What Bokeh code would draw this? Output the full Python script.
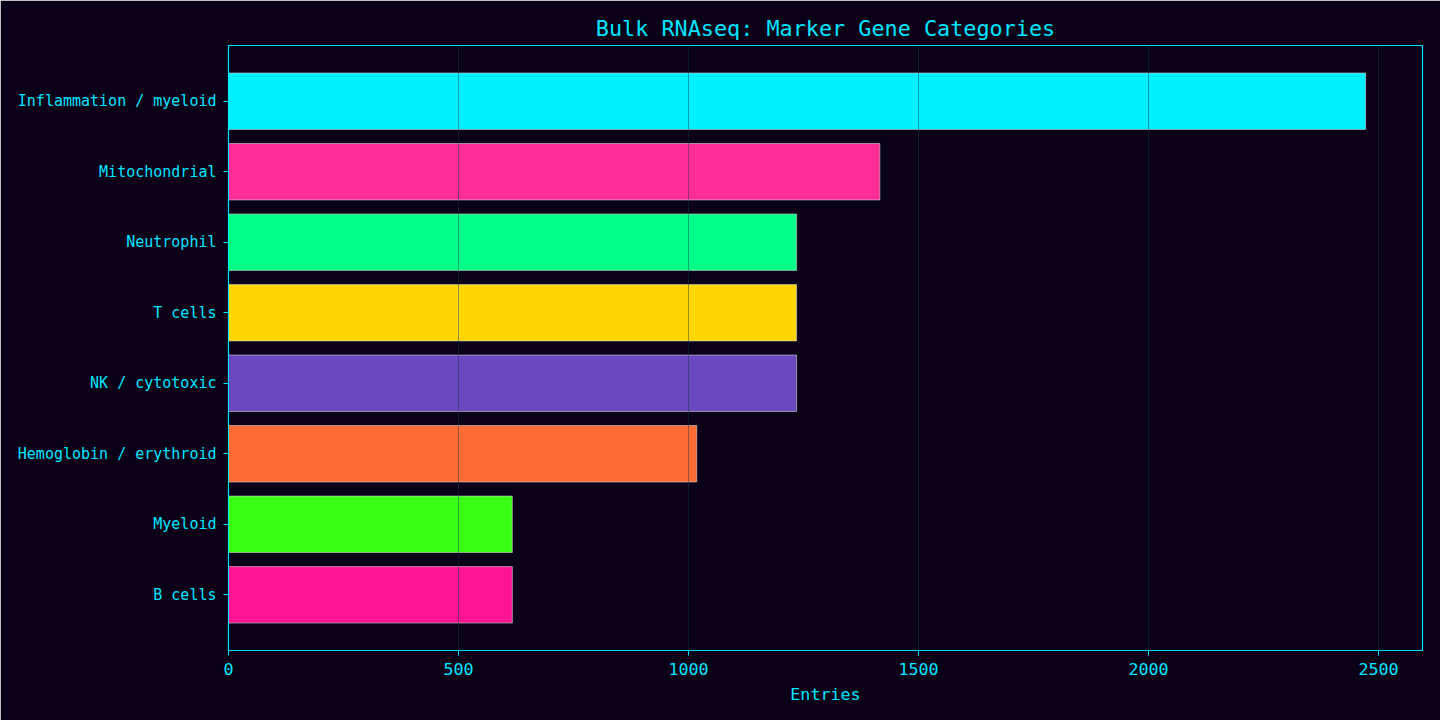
from bokeh.plotting import figure
from bokeh.models import ColumnDataSource, Range1d, FactorRange, FixedTicker
from bokeh.embed import file_html
from bokeh.resources import INLINE

# ---- data (top to bottom as drawn) ----
categories = ["Inflammation / myeloid", "Mitochondrial", "Neutrophil", "T cells",
              "NK / cytotoxic", "Hemoglobin / erythroid", "Myeloid", "B cells"]
entries = [2472, 1416, 1235, 1235, 1235, 1018, 617, 617]
colors = ["#00f0ff", "#ff2d95", "#00ff88", "#ffd700",
          "#6b48c0", "#ff6b35", "#39ff14", "#ff1493"]
x_ticks = [0, 500, 1000, 1500, 2000, 2500]

BG = "#0a0018"
FG = "#00e5ff"
FONT = "DejaVu Sans Mono"

# Bokeh categorical axes run bottom-up, so reverse
factors = list(reversed(categories))
src = ColumnDataSource(dict(cat=categories, val=entries, color=colors))

p = figure(width=1440, height=720, output_backend="svg", toolbar_location=None,
           y_range=FactorRange(factors=factors, range_padding=0.29,
                               range_padding_units="absolute"),
           x_range=Range1d(0, max(entries) * 1.05),
           min_border_left=228, min_border_right=18,
           min_border_top=45, min_border_bottom=70)

p.hbar(y="cat", right="val", left=0, height=0.8, source=src,
       fill_color="color", line_color="#d0d0d0", line_alpha=0.6, line_width=1)

p.background_fill_color = BG
p.border_fill_color = BG
p.outline_line_color = FG
p.outline_line_width = 1.2

p.title.text = "Bulk RNAseq: Marker Gene Categories"
p.title.text_color = FG
p.title.text_font = FONT
p.title.text_font_size = "21.8px"
p.title.text_font_style = "normal"
p.title.align = "center"

p.xaxis.ticker = FixedTicker(ticks=x_ticks)
p.xaxis.axis_label = "Entries"
p.xaxis.axis_label_text_font = FONT
p.xaxis.axis_label_text_font_size = "16.7px"
p.xaxis.axis_label_text_font_style = "normal"
p.xaxis.axis_label_text_color = FG
p.xaxis.axis_label_standoff = 6
p.xaxis.major_label_text_font_size = "16.7px"
p.yaxis.major_label_text_font_size = "15px"
p.xaxis.major_label_standoff = 7
p.yaxis.major_label_standoff = 7

for ax in (p.xaxis, p.yaxis):
    ax.major_label_text_font = FONT
    ax.major_label_text_color = FG
    ax.axis_line_color = FG
    ax.major_tick_line_color = FG
    ax.major_tick_out = 5
    ax.major_tick_in = 0
    ax.minor_tick_line_color = None

p.ygrid.grid_line_color = None
p.xgrid.grid_line_color = "#1a3848"
p.xgrid.grid_line_alpha = 0.45
p.xgrid.grid_line_width = 1
p.xgrid.level = "annotation"

html = file_html(p, INLINE, title="Bulk RNAseq: Marker Gene Categories")
html = html.replace("<body>", '<body style="background-color:%s;margin:0;">' % BG, 1)
open("out.html", "w").write(html)
